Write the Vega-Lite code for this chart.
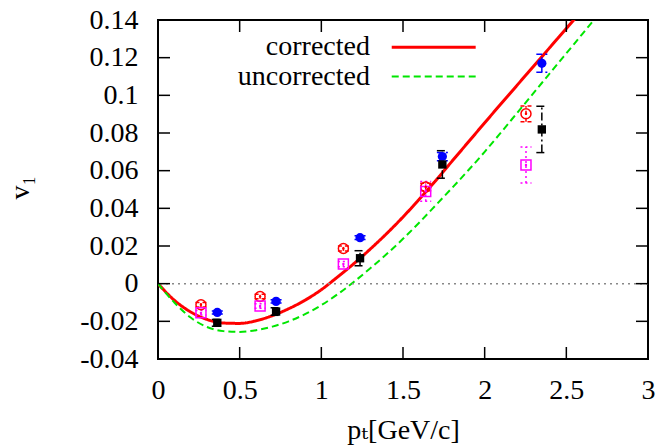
{
  "$schema": "https://vega.github.io/schema/vega-lite/v6.json",
  "width": 490,
  "height": 339,
  "autosize": {"type": "none"},
  "padding": {"left": 158, "top": 20, "right": 12, "bottom": 88},
  "background": "white",
  "config": {
    "view": {"stroke": "black", "strokeWidth": 2, "fill": null},
    "font": "Liberation Serif, DejaVu Serif",
    "axis": {
      "grid": false, "domain": false,
      "labelColor": "black", "titleColor": "black",
      "labelFont": "Liberation Serif, DejaVu Serif", "titleFont": "Liberation Serif, DejaVu Serif",
      "labelFontSize": 28, "titleFontSize": 28, "titleFontWeight": "normal"
    }
  },
  "datasets": {
    "curves": [
      {"curve": "corrected", "pt": 0, "v1": 0},
      {"curve": "corrected", "pt": 0.1, "v1": -0.0088},
      {"curve": "corrected", "pt": 0.2, "v1": -0.015},
      {"curve": "corrected", "pt": 0.3, "v1": -0.019},
      {"curve": "corrected", "pt": 0.4, "v1": -0.0209},
      {"curve": "corrected", "pt": 0.5, "v1": -0.0211},
      {"curve": "corrected", "pt": 0.6, "v1": -0.0197},
      {"curve": "corrected", "pt": 0.7, "v1": -0.017},
      {"curve": "corrected", "pt": 0.8, "v1": -0.0133},
      {"curve": "corrected", "pt": 0.9, "v1": -0.0088},
      {"curve": "corrected", "pt": 1.0, "v1": -0.0032},
      {"curve": "corrected", "pt": 1.1, "v1": 0.0036},
      {"curve": "corrected", "pt": 1.2, "v1": 0.0107},
      {"curve": "corrected", "pt": 1.3, "v1": 0.0184},
      {"curve": "corrected", "pt": 1.4, "v1": 0.0266},
      {"curve": "corrected", "pt": 1.5, "v1": 0.0354},
      {"curve": "corrected", "pt": 1.6, "v1": 0.0449},
      {"curve": "corrected", "pt": 1.7, "v1": 0.0547},
      {"curve": "corrected", "pt": 1.8, "v1": 0.065},
      {"curve": "corrected", "pt": 1.9, "v1": 0.0752},
      {"curve": "corrected", "pt": 2.0, "v1": 0.0854},
      {"curve": "corrected", "pt": 2.1, "v1": 0.0955},
      {"curve": "corrected", "pt": 2.2, "v1": 0.1055},
      {"curve": "corrected", "pt": 2.3, "v1": 0.1155},
      {"curve": "corrected", "pt": 2.4, "v1": 0.1255},
      {"curve": "corrected", "pt": 2.5, "v1": 0.1355},
      {"curve": "corrected", "pt": 2.6, "v1": 0.1455},
      {"curve": "uncorrected", "pt": 0, "v1": 0},
      {"curve": "uncorrected", "pt": 0.1, "v1": -0.01},
      {"curve": "uncorrected", "pt": 0.2, "v1": -0.018},
      {"curve": "uncorrected", "pt": 0.3, "v1": -0.023},
      {"curve": "uncorrected", "pt": 0.4, "v1": -0.0252},
      {"curve": "uncorrected", "pt": 0.5, "v1": -0.0256},
      {"curve": "uncorrected", "pt": 0.6, "v1": -0.0247},
      {"curve": "uncorrected", "pt": 0.7, "v1": -0.0228},
      {"curve": "uncorrected", "pt": 0.8, "v1": -0.02},
      {"curve": "uncorrected", "pt": 0.9, "v1": -0.0162},
      {"curve": "uncorrected", "pt": 1.0, "v1": -0.0114},
      {"curve": "uncorrected", "pt": 1.1, "v1": -0.0056},
      {"curve": "uncorrected", "pt": 1.2, "v1": 0.001},
      {"curve": "uncorrected", "pt": 1.3, "v1": 0.0082},
      {"curve": "uncorrected", "pt": 1.4, "v1": 0.0157},
      {"curve": "uncorrected", "pt": 1.5, "v1": 0.0238},
      {"curve": "uncorrected", "pt": 1.6, "v1": 0.0325},
      {"curve": "uncorrected", "pt": 1.7, "v1": 0.0416},
      {"curve": "uncorrected", "pt": 1.8, "v1": 0.0508},
      {"curve": "uncorrected", "pt": 1.9, "v1": 0.0602},
      {"curve": "uncorrected", "pt": 2.0, "v1": 0.07},
      {"curve": "uncorrected", "pt": 2.1, "v1": 0.0803},
      {"curve": "uncorrected", "pt": 2.2, "v1": 0.0908},
      {"curve": "uncorrected", "pt": 2.3, "v1": 0.1013},
      {"curve": "uncorrected", "pt": 2.4, "v1": 0.1118},
      {"curve": "uncorrected", "pt": 2.5, "v1": 0.1223},
      {"curve": "uncorrected", "pt": 2.6, "v1": 0.1328},
      {"curve": "uncorrected", "pt": 2.7, "v1": 0.1433}
    ],
    "points": [
      {"series": "s1", "pt": 0.263, "v1": -0.0112, "lo": -0.0124, "hi": -0.01},
      {"series": "s1", "pt": 0.625, "v1": -0.0068, "lo": -0.008, "hi": -0.0056},
      {"series": "s1", "pt": 1.135, "v1": 0.0187, "lo": 0.0174, "hi": 0.02},
      {"series": "s1", "pt": 1.639, "v1": 0.0513, "lo": 0.0493, "hi": 0.0533},
      {"series": "s1", "pt": 2.253, "v1": 0.0902, "lo": 0.086, "hi": 0.0944},
      {"series": "s2", "pt": 0.263, "v1": -0.0155, "lo": -0.0167, "hi": -0.0143},
      {"series": "s2", "pt": 0.625, "v1": -0.0119, "lo": -0.0131, "hi": -0.0107},
      {"series": "s2", "pt": 1.135, "v1": 0.0104, "lo": 0.009, "hi": 0.0118},
      {"series": "s2", "pt": 1.639, "v1": 0.049, "lo": 0.0438, "hi": 0.0542},
      {"series": "s2", "pt": 2.253, "v1": 0.063, "lo": 0.0534, "hi": 0.0726},
      {"series": "s3", "pt": 0.363, "v1": -0.0153, "lo": -0.0161, "hi": -0.0145},
      {"series": "s3", "pt": 0.723, "v1": -0.0094, "lo": -0.0103, "hi": -0.0085},
      {"series": "s3", "pt": 1.237, "v1": 0.0244, "lo": 0.0234, "hi": 0.0254},
      {"series": "s3", "pt": 1.741, "v1": 0.0675, "lo": 0.0653, "hi": 0.0697},
      {"series": "s3", "pt": 2.35, "v1": 0.117, "lo": 0.1122, "hi": 0.1218},
      {"series": "s4", "pt": 0.363, "v1": -0.0208, "lo": -0.0226, "hi": -0.019},
      {"series": "s4", "pt": 0.723, "v1": -0.0148, "lo": -0.0168, "hi": -0.0128},
      {"series": "s4", "pt": 1.237, "v1": 0.0135, "lo": 0.0095, "hi": 0.0175},
      {"series": "s4", "pt": 1.741, "v1": 0.0633, "lo": 0.056, "hi": 0.0706},
      {"series": "s4", "pt": 2.35, "v1": 0.0819, "lo": 0.0696, "hi": 0.0942}
    ],
    "xticks": [{"v": 0}, {"v": 0.5}, {"v": 1}, {"v": 1.5}, {"v": 2}, {"v": 2.5}, {"v": 3}],
    "yticks": [{"v": -0.04}, {"v": -0.02}, {"v": 0}, {"v": 0.02}, {"v": 0.04}, {"v": 0.06}, {"v": 0.08}, {"v": 0.1}, {"v": 0.12}, {"v": 0.14}],
    "one": [{}]
  },
  "layer": [
    {
      "data": {"name": "curves"},
      "mark": {"type": "line", "clip": true, "interpolate": "monotone"},
      "encoding": {
        "x": {"field": "pt", "type": "quantitative",
          "scale": {"domain": [0, 3], "nice": false, "zero": false},
          "axis": {"orient": "bottom", "values": [0, 0.5, 1, 1.5, 2, 2.5, 3], "ticks": false, "tickSize": 0, "labelPadding": 17,
            "labelFont": "Liberation Serif, DejaVu Serif", "labelFontSize": 28,
            "titleFont": "Liberation Serif, DejaVu Serif", "titleFontSize": 28,
            "labelExpr": "'' + datum.value", "labelFlush": false, "labelOverlap": false,
            "title": "pₜ[GeV/c]", "titleX": 245, "titleY": 79, "titleAlign": "center", "titleBaseline": "alphabetic"}},
        "y": {"field": "v1", "type": "quantitative",
          "scale": {"domain": [-0.04, 0.14], "nice": false, "zero": false},
          "axis": {"orient": "left", "values": [-0.04, -0.02, 0, 0.02, 0.04, 0.06, 0.08, 0.1, 0.12, 0.14], "ticks": false, "tickSize": 0, "labelPadding": 20,
            "labelFont": "Liberation Serif, DejaVu Serif", "labelFontSize": 28,
            "titleFont": "Liberation Serif, DejaVu Serif", "titleFontSize": 28,
            "labelExpr": "'' + round(datum.value * 100) / 100", "labelOverlap": false,
            "title": "v₁", "titleX": -138, "titleY": 167, "titleAngle": -90, "titleAlign": "center", "titleBaseline": "middle"}},
        "color": {"field": "curve", "type": "nominal", "scale": {"domain": ["corrected", "uncorrected", "s1", "s2", "s3", "s4"], "range": ["#ff0000", "#00e600", "#ff0000", "#ff00ff", "#0000ff", "#000000"]}, "legend": null},
        "strokeDash": {"field": "curve", "type": "nominal", "scale": {"domain": ["corrected", "uncorrected", "s1", "s2", "s3", "s4"], "range": [[1, 0], [7, 4], [4, 3], [2, 3], [6, 3], [8, 3, 2, 3]]}, "legend": null},
        "strokeWidth": {"field": "curve", "type": "nominal", "scale": {"domain": ["corrected", "uncorrected"], "range": [3, 2]}, "legend": null}
      }
    },
    {
      "data": {"name": "one"},
      "mark": {"type": "rule", "color": "#888888", "strokeDash": [2, 4], "strokeWidth": 1.5},
      "encoding": {
        "y": {"datum": 0, "type": "quantitative", "scale": {"domain": [-0.04, 0.14], "nice": false, "zero": false}, "axis": null}
      }
    },
    {
      "data": {"name": "xticks"},
      "mark": {"type": "tick", "orient": "vertical", "size": 24, "thickness": 1.5, "color": "black", "clip": true, "opacity": 1},
      "encoding": {
        "x": {"field": "v", "type": "quantitative", "scale": {"domain": [0, 3], "nice": false, "zero": false}, "axis": null},
        "y": {"datum": -0.04, "type": "quantitative", "scale": {"domain": [-0.04, 0.14], "nice": false, "zero": false}, "axis": null}
      }
    },
    {
      "data": {"name": "xticks"},
      "mark": {"type": "tick", "orient": "vertical", "size": 24, "thickness": 1.5, "color": "black", "clip": true, "opacity": 1},
      "encoding": {
        "x": {"field": "v", "type": "quantitative", "scale": {"domain": [0, 3], "nice": false, "zero": false}, "axis": null},
        "y": {"datum": 0.14, "type": "quantitative", "scale": {"domain": [-0.04, 0.14], "nice": false, "zero": false}, "axis": null}
      }
    },
    {
      "data": {"name": "yticks"},
      "mark": {"type": "tick", "orient": "horizontal", "size": 24, "thickness": 1.5, "color": "black", "clip": true, "opacity": 1},
      "encoding": {
        "y": {"field": "v", "type": "quantitative", "scale": {"domain": [-0.04, 0.14], "nice": false, "zero": false}, "axis": null},
        "x": {"datum": 0, "type": "quantitative", "scale": {"domain": [0, 3], "nice": false, "zero": false}, "axis": null}
      }
    },
    {
      "data": {"name": "yticks"},
      "mark": {"type": "tick", "orient": "horizontal", "size": 24, "thickness": 1.5, "color": "black", "clip": true, "opacity": 1},
      "encoding": {
        "y": {"field": "v", "type": "quantitative", "scale": {"domain": [-0.04, 0.14], "nice": false, "zero": false}, "axis": null},
        "x": {"datum": 3, "type": "quantitative", "scale": {"domain": [0, 3], "nice": false, "zero": false}, "axis": null}
      }
    },
    {
      "data": {"name": "points"},
      "mark": {"type": "rule", "strokeWidth": 1.5},
      "encoding": {
        "x": {"field": "pt", "type": "quantitative", "scale": {"domain": [0, 3], "nice": false, "zero": false}, "axis": null},
        "y": {"field": "lo", "type": "quantitative", "scale": {"domain": [-0.04, 0.14], "nice": false, "zero": false}, "axis": null},
        "y2": {"field": "hi"},
        "color": {"field": "series", "type": "nominal", "scale": {"domain": ["corrected", "uncorrected", "s1", "s2", "s3", "s4"], "range": ["#ff0000", "#00e600", "#ff0000", "#ff00ff", "#0000ff", "#000000"]}, "legend": null},
        "strokeDash": {"field": "series", "type": "nominal", "scale": {"domain": ["corrected", "uncorrected", "s1", "s2", "s3", "s4"], "range": [[1, 0], [7, 4], [4, 3], [2, 3], [6, 3], [8, 3, 2, 3]]}, "legend": null}
      }
    },
    {
      "data": {"name": "points"},
      "mark": {"type": "point", "shape": "M-1,0H1", "filled": false, "size": 121, "strokeWidth": 1.5, "opacity": 1},
      "encoding": {
        "x": {"field": "pt", "type": "quantitative", "scale": {"domain": [0, 3], "nice": false, "zero": false}, "axis": null},
        "y": {"field": "lo", "type": "quantitative", "scale": {"domain": [-0.04, 0.14], "nice": false, "zero": false}, "axis": null},
        "color": {"field": "series", "type": "nominal", "scale": {"domain": ["corrected", "uncorrected", "s1", "s2", "s3", "s4"], "range": ["#ff0000", "#00e600", "#ff0000", "#ff00ff", "#0000ff", "#000000"]}, "legend": null},
        "strokeDash": {"field": "series", "type": "nominal", "scale": {"domain": ["corrected", "uncorrected", "s1", "s2", "s3", "s4"], "range": [[1, 0], [7, 4], [4, 3], [2, 3], [6, 3], [8, 3, 2, 3]]}, "legend": null}
      }
    },
    {
      "data": {"name": "points"},
      "mark": {"type": "point", "shape": "M-1,0H1", "filled": false, "size": 121, "strokeWidth": 1.5, "opacity": 1},
      "encoding": {
        "x": {"field": "pt", "type": "quantitative", "scale": {"domain": [0, 3], "nice": false, "zero": false}, "axis": null},
        "y": {"field": "hi", "type": "quantitative", "scale": {"domain": [-0.04, 0.14], "nice": false, "zero": false}, "axis": null},
        "color": {"field": "series", "type": "nominal", "scale": {"domain": ["corrected", "uncorrected", "s1", "s2", "s3", "s4"], "range": ["#ff0000", "#00e600", "#ff0000", "#ff00ff", "#0000ff", "#000000"]}, "legend": null},
        "strokeDash": {"field": "series", "type": "nominal", "scale": {"domain": ["corrected", "uncorrected", "s1", "s2", "s3", "s4"], "range": [[1, 0], [7, 4], [4, 3], [2, 3], [6, 3], [8, 3, 2, 3]]}, "legend": null}
      }
    },
    {
      "data": {"name": "points"},
      "transform": [{"filter": "datum.series == 's1'"}],
      "mark": {"type": "point", "shape": "circle", "filled": false, "color": "#ff0000", "size": 100, "strokeWidth": 1.5, "opacity": 1},
      "encoding": {
        "x": {"field": "pt", "type": "quantitative", "scale": {"domain": [0, 3], "nice": false, "zero": false}, "axis": null},
        "y": {"field": "v1", "type": "quantitative", "scale": {"domain": [-0.04, 0.14], "nice": false, "zero": false}, "axis": null}
      }
    },
    {
      "data": {"name": "points"},
      "transform": [{"filter": "datum.series == 's2'"}],
      "mark": {"type": "point", "shape": "square", "filled": false, "color": "#ff00ff", "size": 100, "strokeWidth": 1.5, "opacity": 1},
      "encoding": {
        "x": {"field": "pt", "type": "quantitative", "scale": {"domain": [0, 3], "nice": false, "zero": false}, "axis": null},
        "y": {"field": "v1", "type": "quantitative", "scale": {"domain": [-0.04, 0.14], "nice": false, "zero": false}, "axis": null}
      }
    },
    {
      "data": {"name": "points"},
      "transform": [{"filter": "datum.series == 's1' || datum.series == 's2'"}],
      "mark": {"type": "point", "shape": "circle", "filled": true, "size": 6, "opacity": 1},
      "encoding": {
        "x": {"field": "pt", "type": "quantitative", "scale": {"domain": [0, 3], "nice": false, "zero": false}, "axis": null},
        "y": {"field": "v1", "type": "quantitative", "scale": {"domain": [-0.04, 0.14], "nice": false, "zero": false}, "axis": null},
        "color": {"field": "series", "type": "nominal", "scale": {"domain": ["corrected", "uncorrected", "s1", "s2", "s3", "s4"], "range": ["#ff0000", "#00e600", "#ff0000", "#ff00ff", "#0000ff", "#000000"]}, "legend": null}
      }
    },
    {
      "data": {"name": "points"},
      "transform": [{"filter": "datum.series == 's3'"}],
      "mark": {"type": "point", "shape": "circle", "filled": true, "color": "#0000ff", "size": 85, "opacity": 1},
      "encoding": {
        "x": {"field": "pt", "type": "quantitative", "scale": {"domain": [0, 3], "nice": false, "zero": false}, "axis": null},
        "y": {"field": "v1", "type": "quantitative", "scale": {"domain": [-0.04, 0.14], "nice": false, "zero": false}, "axis": null}
      }
    },
    {
      "data": {"name": "points"},
      "transform": [{"filter": "datum.series == 's4'"}],
      "mark": {"type": "point", "shape": "square", "filled": true, "color": "#000000", "size": 70, "opacity": 1},
      "encoding": {
        "x": {"field": "pt", "type": "quantitative", "scale": {"domain": [0, 3], "nice": false, "zero": false}, "axis": null},
        "y": {"field": "v1", "type": "quantitative", "scale": {"domain": [-0.04, 0.14], "nice": false, "zero": false}, "axis": null}
      }
    },
    {
      "data": {"name": "one"},
      "mark": {"type": "text", "align": "right", "baseline": "middle", "font": "Liberation Serif, DejaVu Serif", "fontSize": 28, "color": "black"},
      "encoding": {
        "x": {"datum": 1.298, "type": "quantitative", "scale": {"domain": [0, 3], "nice": false, "zero": false}, "axis": null},
        "y": {"datum": 0.1255, "type": "quantitative", "scale": {"domain": [-0.04, 0.14], "nice": false, "zero": false}, "axis": null},
        "text": {"value": "corrected"}
      }
    },
    {
      "data": {"name": "one"},
      "mark": {"type": "text", "align": "right", "baseline": "middle", "font": "Liberation Serif, DejaVu Serif", "fontSize": 28, "color": "black"},
      "encoding": {
        "x": {"datum": 1.298, "type": "quantitative", "scale": {"domain": [0, 3], "nice": false, "zero": false}, "axis": null},
        "y": {"datum": 0.11, "type": "quantitative", "scale": {"domain": [-0.04, 0.14], "nice": false, "zero": false}, "axis": null},
        "text": {"value": "uncorrected"}
      }
    },
    {
      "data": {"name": "one"},
      "mark": {"type": "rule", "color": "#ff0000", "strokeWidth": 3},
      "encoding": {
        "x": {"datum": 1.431, "type": "quantitative", "scale": {"domain": [0, 3], "nice": false, "zero": false}, "axis": null},
        "x2": {"datum": 1.945},
        "y": {"datum": 0.1255, "type": "quantitative", "scale": {"domain": [-0.04, 0.14], "nice": false, "zero": false}, "axis": null}
      }
    },
    {
      "data": {"name": "one"},
      "mark": {"type": "rule", "color": "#00e600", "strokeWidth": 2, "strokeDash": [7, 4]},
      "encoding": {
        "x": {"datum": 1.431, "type": "quantitative", "scale": {"domain": [0, 3], "nice": false, "zero": false}, "axis": null},
        "x2": {"datum": 1.945},
        "y": {"datum": 0.11, "type": "quantitative", "scale": {"domain": [-0.04, 0.14], "nice": false, "zero": false}, "axis": null}
      }
    }
  ],
  "resolve": {"axis": {"x": "independent", "y": "independent"}}
}
